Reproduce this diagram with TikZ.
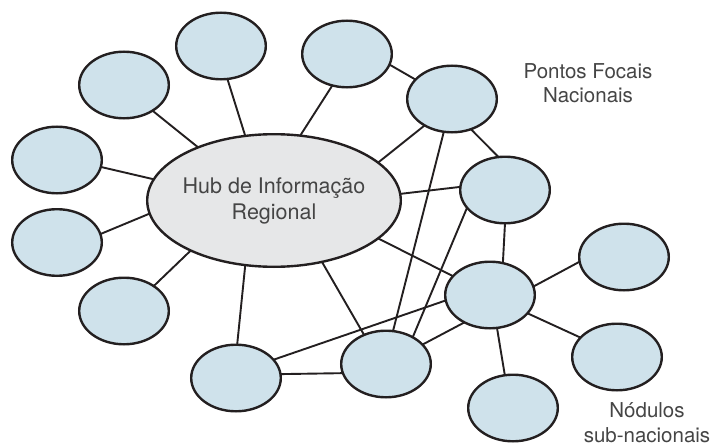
\documentclass[tikz,border=0pt]{standalone}
\usepackage{fontspec}
\setmainfont{TeX Gyre Heros}
\usetikzlibrary{shapes.geometric}
\definecolor{nodeblue}{HTML}{CFE2EB}
\definecolor{hubgray}{HTML}{E6E7E8}
\definecolor{outline}{HTML}{231F20}
\definecolor{txt}{HTML}{454545}
\begin{document}
\begin{tikzpicture}[x=1pt,y=-1pt,
  small/.style={ellipse, draw=outline, fill=nodeblue, line width=2.4pt,
    minimum width=89.6pt, minimum height=66.6pt, inner sep=0pt, outer sep=0pt},
  hubnode/.style={ellipse, draw=outline, fill=hubgray, line width=2.4pt,
    minimum width=253.6pt, minimum height=132.6pt, inner sep=0pt, outer sep=0pt},
  link/.style={draw=outline, line width=1.9pt},
  lbl/.style={align=center, font=\fontsize{20.5}{24.5}\selectfont, text=txt, inner sep=0pt}]
\useasboundingbox (0,0) rectangle (716,447);

% nodes
\node[hubnode] (hub) at (274,200.5) {};
\node[lbl, font=\fontsize{21.5}{26}\selectfont] (hubtxt) at (274,201) {Hub de Informação\\Regional};
\node[small] (A) at (221,46) {};
\node[small] (B) at (124,85) {};
\node[small] (C) at (57,160) {};
\node[small] (D) at (347,54) {};
\node[small] (E) at (452,99) {};
\node[small] (F) at (505,190) {};
\node[small] (G) at (57,242.5) {};
\node[small] (H) at (124,311) {};
\node[small] (I) at (236,378) {};
\node[small] (J) at (490,295) {};
\node[small] (K) at (624,257) {};
\node[small] (L) at (617,357) {};
\node[small] (M) at (513,408) {};
\node[small] (N) at (386,364) {};

% labels
\node[lbl] (pf) at (588,83) {Pontos Focais\\Nacionais};
\node[lbl] (ns) at (647,422.5) {Nódulos\\sub-nacionais};

% connectors
\draw[link] (hub.114.7) -- (A.281.3);
\draw[link] (hub.145.9) -- (B.318);
\draw[link] (hub.170.5) -- (C.351.2);
\draw[link] (hub.186.6) -- (G.11.9);
\draw[link] (hub.211.1) -- (H.40.2);
\draw[link] (hub.246) -- (I.88.4);
\draw[link] (hub.68.9) -- (D.245.6);
\draw[link] (hub.20) -- (E.224);
\draw[link] (hub.3.4) -- (F.176.2);
\draw[link] (hub.340) -- (J.153.4);
\draw[link] (hub.308.9) -- (N.127.7);
\draw[link] (D.346.3) -- (E.152.2);
\draw[link] (E.302.5) -- (F.101.3);
\draw[link] (E.256.8) -- (N.78.4);
\draw[link] (F.205.3) -- (N.45);
\draw[link] (F.270) -- (J.68.5);
\draw[link] (J.187.6) -- (I.26.6);
\draw[link] (J.227) -- (N.28.3);
\draw[link] (I.5) -- (N.192.8);
\draw[link] (J.11.3) -- (K.186.3);
\draw[link] (J.334) -- (L.152.2);
\draw[link] (J.282.9) -- (M.104.8);
\end{tikzpicture}
\end{document}
